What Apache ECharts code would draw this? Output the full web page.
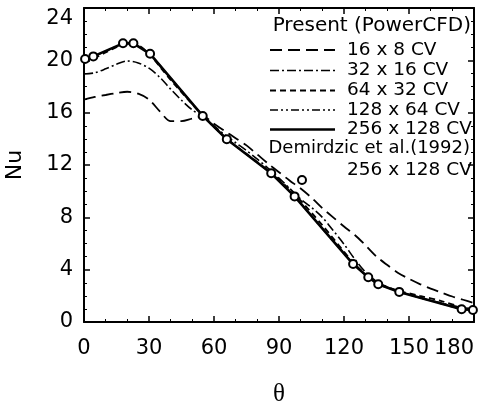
<!DOCTYPE html>
<html>
<head>
<meta charset="utf-8">
<script src="https://cdn.jsdelivr.net/npm/echarts@6/dist/echarts.min.js"></script>
<style>
html,body{margin:0;padding:0;background:#fff;}
#chart{width:479px;height:405px;}
</style>
</head>
<body>
<div id="chart"></div>
<script>
// ---- data (theta in degrees, Nu) ----
const xRange = [0, 180];
const yRange = [0, 24];
const legendTitle1 = 'Present (PowerCFD)';
const legendTitle2 = 'Demirdzic et al.(1992)';
const seriesNames = ['16 x 8 CV', '32 x 16 CV', '64 x 32 CV', '128 x 64 CV', '256 x 128 CV'];
const refName = '256 x 128 CV';

const nu16x8 = [[0,17.0],[5,17.2],[10,17.35],[15,17.5],[20,17.6],[25,17.45],[30,17.0],[35,16.1],[40,15.35],[45,15.35],[50,15.55],[55,15.7],[60,15.15],[65,14.6],[70,14.05],[75,13.5],[80,12.8],[85,12.1],[90,11.45],[95,10.8],[100,10.2],[105,9.5],[110,8.7],[115,8.0],[120,7.3],[125,6.65],[130,5.85],[135,5.0],[140,4.35],[145,3.75],[150,3.3],[155,2.9],[160,2.55],[165,2.25],[170,1.95],[175,1.7],[180,1.45]];
const nu32x16 = [[0,18.95],[5,19.05],[10,19.35],[15,19.7],[20,19.95],[25,19.8],[30,19.4],[35,18.7],[40,17.8],[45,16.95],[50,16.2],[55,15.7],[60,15.0],[65,14.3],[70,13.7],[75,13.1],[80,12.45],[85,11.75],[90,11.0],[95,10.2],[100,9.4],[105,8.75],[110,8.0],[115,7.0],[120,5.95],[125,4.8],[130,3.8],[135,3.1],[140,2.65],[145,2.35],[150,2.1],[155,1.85],[160,1.65],[165,1.45],[170,1.25],[175,1.1],[180,1.0]];
const nu64x32 = [[0,20.0],[5,20.2],[10,20.6],[15,21.0],[20,21.25],[25,21.15],[30,20.5],[40,18.5],[55,15.75],[66,14.0],[86,11.45],[97,9.8],[110,7.4],[124,4.6],[131,3.5],[136,2.95],[145,2.4],[155,2.0],[165,1.6],[175,1.1],[180,0.95]];
const nu128x64 = [[0,20.1],[4.3,20.3],[10,20.7],[18,21.3],[22.8,21.3],[30.5,20.5],[54.8,15.75],[65.9,13.97],[86.4,11.37],[97.2,9.6],[124.2,4.43],[131.2,3.42],[135.8,2.88],[145.5,2.3],[174.3,0.97],[180,0.9]];
const nu256x128 = [[0,20.1],[4.3,20.3],[18,21.3],[22.8,21.3],[30.5,20.5],[54.8,15.75],[65.9,13.97],[86.4,11.37],[97.2,9.6],[124.2,4.43],[131.2,3.42],[135.8,2.88],[145.5,2.3],[174.3,0.97],[179.5,0.92]];
const nuDemirdzic = [[0.5,20.1],[4.3,20.3],[18,21.3],[22.8,21.3],[30.5,20.5],[54.8,15.75],[65.9,13.97],[86.4,11.37],[97.2,9.6],[124.2,4.43],[131.2,3.42],[135.8,2.88],[145.5,2.3],[174.3,0.97],[179.5,0.92]];

// ---- styles ----
const dashes = [[12,6],[9,3,2,3],[6,4],[8,3,2,3,2,3],'solid'];
const widths = [1.8,1.6,1.8,1.6,2.6];
const dataSets = [nu16x8, nu32x16, nu64x32, nu128x64, nu256x128];

const FONT = 'DejaVu Sans';
const chart = echarts.init(document.getElementById('chart'), null, {renderer:'canvas'});

const axisCommon = {
  type: 'value',
  axisLine: {show: true, onZero: false, lineStyle: {color: '#000', width: 2}},
  axisTick: {show: true, inside: true, length: 6, lineStyle: {color: '#000', width: 1.5}},
  minorTick: {show: true, length: 3, lineStyle: {color: '#000', width: 1}},
  splitLine: {show: false},
  minorSplitLine: {show: false}
};

const series = dataSets.map((d, i) => ({
  name: seriesNames[i],
  type: 'line',
  data: d,
  smooth: i < 3 ? 0.3 : false,
  symbol: 'none',
  lineStyle: {color: '#000', width: widths[i], type: dashes[i]},
  z: 2,
  animation: false
}));
series.push({
  name: refName,
  type: 'scatter',
  data: nuDemirdzic,
  symbol: 'circle',
  symbolSize: 8,
  itemStyle: {color: '#fff', borderColor: '#000', borderWidth: 2, opacity: 1},
  clip: false,
  z: 5,
  animation: false
});

// legend graphic
const lx0 = 270, lx1 = 335, tx = 347;
const rowsY = [50, 70.5, 90.5, 110, 129.5];
const graphic = [];
graphic.push({type:'text', right: 8, top: 16, style:{text: legendTitle1, font: '20px "' + FONT + '"', fill:'#000'}});
rowsY.forEach((y, i) => {
  graphic.push({type:'line', shape:{x1:lx0, y1:y, x2:lx1, y2:y},
    style:{stroke:'#000', lineWidth: widths[i], lineDash: dashes[i] === 'solid' ? null : dashes[i]}});
  graphic.push({type:'text', x: tx, y: y, style:{text: seriesNames[i], font: '18.5px "' + FONT + '"', fill:'#000', verticalAlign:'middle'}});
});
graphic.push({type:'text', right: 9, top: 139, style:{text: legendTitle2, font: '18px "' + FONT + '"', fill:'#000'}});
graphic.push({type:'circle', shape:{cx: 302, cy: 180, r: 4}, style:{fill:'#fff', stroke:'#000', lineWidth: 2}, z: 10});
graphic.push({type:'text', x: tx, y: 170, style:{text: refName, font: '18.5px "' + FONT + '"', fill:'#000', verticalAlign:'middle'}});

chart.setOption({
  backgroundColor: '#fff',
  animation: false,
  grid: {left: 84, right: 5, top: 8, bottom: 83, containLabel: false, outerBoundsMode: 'none'},
  xAxis: [
    Object.assign({}, axisCommon, {
      position: 'bottom', min: xRange[0], max: xRange[1], interval: 30,
      minorTick: Object.assign({}, axisCommon.minorTick, {splitNumber: 3}),
      axisLabel: {show: true, color:'#000', fontFamily: FONT, fontSize: 21, margin: 16, alignMaxLabel: 'right'},
      name: 'θ', nameLocation: 'middle', nameGap: 60,
      nameTextStyle: {fontFamily: 'Liberation Serif', fontSize: 25, color: '#000'}
    }),
    Object.assign({}, axisCommon, {
      position: 'top', min: xRange[0], max: xRange[1], interval: 30,
      minorTick: Object.assign({}, axisCommon.minorTick, {splitNumber: 3}),
      axisLabel: {show: false}
    })
  ],
  yAxis: [
    Object.assign({}, axisCommon, {
      position: 'left', min: yRange[0], max: yRange[1], interval: 4,
      minorTick: Object.assign({}, axisCommon.minorTick, {splitNumber: 4}),
      axisLabel: {
        show: true, color:'#000', fontFamily: FONT, fontSize: 21, margin: 11,
        formatter: v => v === yRange[1] ? '{top|' + v + '}' : String(v),
        rich: {top: {fontFamily: FONT, fontSize: 21, color: '#000', padding: [22, 0, 0, 0]}}
      },
      name: 'Nu', nameLocation: 'middle', nameGap: 58, nameRotate: 90,
      nameTextStyle: {fontFamily: FONT, fontSize: 22, color: '#000'}
    }),
    Object.assign({}, axisCommon, {
      position: 'right', min: yRange[0], max: yRange[1], interval: 4,
      minorTick: Object.assign({}, axisCommon.minorTick, {splitNumber: 4}),
      axisLabel: {show: false}
    })
  ],
  series: series,
  graphic: graphic
});
</script>
</body>
</html>
